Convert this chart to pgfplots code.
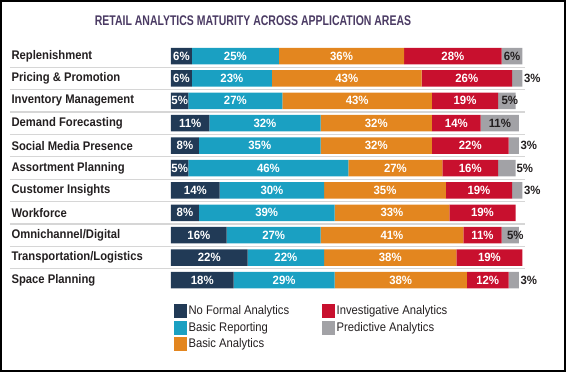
\documentclass[border=0pt]{standalone}
\usepackage{fontspec}
\setmainfont{Liberation Sans}[FakeStretch=0.9]
\newfontfamily\titlefont{Liberation Sans}[FakeStretch=0.75]
\newfontfamily\numfont{Liberation Sans}[FakeStretch=0.95]
\usepackage{pgfplots}
\pgfplotsset{compat=1.18}
\usepackage{pgfplotstable}
\definecolor{cNavy}{HTML}{213A56}
\definecolor{cTeal}{HTML}{1AA0C2}
\definecolor{cOrange}{HTML}{E3861F}
\definecolor{cRed}{HTML}{C8102E}
\definecolor{cGray}{HTML}{A2A2A6}
\definecolor{cTitle}{HTML}{4A3A63}
\definecolor{cText}{HTML}{231F20}
\definecolor{cSep}{HTML}{D6D6D6}
% s = horizontal offset (pt) of the Predictive Analytics label
\pgfplotstableread{
y a b c d e s
0 6 25 36 28 6 0
1 6 23 43 26 3 15
2 5 27 43 19 5 3
3 11 32 32 14 11 0
4 8 35 32 22 3 15
5 5 46 27 16 5 18
6 14 30 35 19 3 15
7 8 39 33 19 0 0
8 16 27 41 11 5 5
9 22 22 38 19 0 0
10 18 29 38 12 3 15
}\datatable
\begin{document}
\begin{tikzpicture}
\useasboundingbox (0,0) rectangle (566pt,-372pt);
\draw[line width=1.6pt, black] (0.8pt,-0.8pt) rectangle (565.2pt,-371.2pt);
\node[font=\titlefont\bfseries\fontsize{14}{14}\selectfont, text=cTitle] at (253pt,-21pt) {RETAIL ANALYTICS MATURITY ACROSS APPLICATION AREAS};
\begin{axis}[
  at={(171pt,-44.8pt)}, anchor=north west,
  x=3.48pt, y=22.4pt, y dir=reverse,
  xmin=0, xmax=101, ymin=-0.5, ymax=10.5,
  xbar stacked, bar width=16.5pt,
  /pgf/number format/assume math mode=true,
  axis line style={draw=none}, tick style={draw=none},
  xtick=\empty, ytick={0,...,10},
  yticklabels={Replenishment,Pricing \& Promotion,Inventory Management,Demand Forecasting,Social Media Presence,Assortment Planning,Customer Insights,Workforce,Omnichannel/Digital,Transportation/Logistics,Space Planning},
  yticklabel style={anchor=west, xshift=-163pt, font=\bfseries\fontsize{12.5}{13}\selectfont, text=cText},
  clip=false,
  every node near coord/.append style={font=\numfont\bfseries\fontsize{12}{12}\selectfont, text=white, anchor=center},
  legend columns=2,
  legend cell align=left,
  legend style={at={(0,0)}, anchor=north west, xshift=0pt, yshift=-10pt, draw=none, fill=none,
    font=\fontsize{12.5}{13}\selectfont, text=cText, row sep=2pt,
    /tikz/column 2/.style={column sep=31pt}},
  legend image code/.code={\fill[#1] (0pt,-6.5pt) rectangle (12pt,6.5pt);},
]
\pgfplotsinvokeforeach{0,...,9}{\draw[cSep, line width=1.2pt] (axis cs:-46.3,#1+0.5) -- (axis cs:101.7,#1+0.5);}
\addplot[fill=cNavy, draw=none, forget plot,
  visualization depends on={\thisrow{a}\as\val},
  nodes near coords={\pgfmathprintnumber{\val}\%}]
  table[x=a, y=y]{\datatable};
\addplot[fill=cTeal, draw=none, forget plot,
  visualization depends on={\thisrow{b}\as\val},
  nodes near coords={\pgfmathprintnumber{\val}\%}]
  table[x=b, y=y]{\datatable};
\addplot[fill=cOrange, draw=none, forget plot,
  visualization depends on={\thisrow{c}\as\val},
  nodes near coords={\pgfmathprintnumber{\val}\%}]
  table[x=c, y=y]{\datatable};
\addplot[fill=cRed, draw=none, forget plot,
  visualization depends on={\thisrow{d}\as\val},
  nodes near coords={\pgfmathprintnumber{\val}\%}]
  table[x=d, y=y]{\datatable};
\addplot[fill=cGray, draw=none, forget plot,
  visualization depends on={\thisrow{e}\as\val},
  visualization depends on={\thisrow{s}\as\sh},
  nodes near coords={\ifdim\val pt>0pt \pgfmathprintnumber{\val}\%\fi},
  every node near coord/.append style={text=cText, xshift=\sh}]
  table[x=e, y=y]{\datatable};
\addlegendimage{cNavy}
\addlegendentry{No Formal Analytics}
\addlegendimage{cRed}
\addlegendentry{Investigative Analytics}
\addlegendimage{cTeal}
\addlegendentry{Basic Reporting}
\addlegendimage{cGray}
\addlegendentry{Predictive Analytics}
\addlegendimage{cOrange}
\addlegendentry{Basic Analytics}
\end{axis}
\end{tikzpicture}
\end{document}
